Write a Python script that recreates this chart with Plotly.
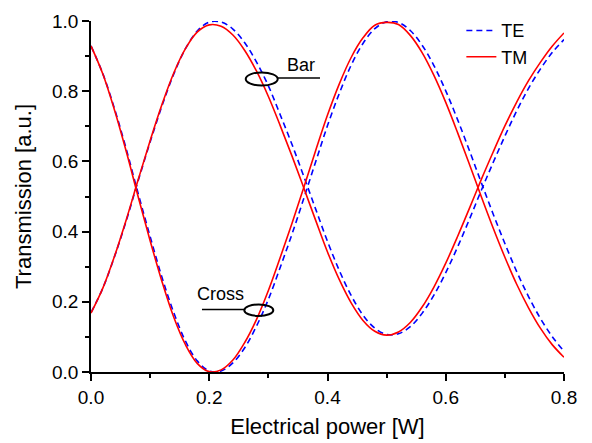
import plotly.graph_objects as go

power = [0.00, 0.02, 0.04, 0.06, 0.08, 0.10, 0.12, 0.14, 0.16, 0.18,
         0.20, 0.22, 0.24, 0.26, 0.28, 0.30, 0.32, 0.34, 0.36, 0.38,
         0.40, 0.42, 0.44, 0.46, 0.48, 0.50, 0.52, 0.54, 0.56, 0.58,
         0.60, 0.62, 0.64, 0.66, 0.68, 0.70, 0.72, 0.74, 0.76, 0.78, 0.80]

te_cross = [0.929, 0.850, 0.749, 0.633, 0.507, 0.386, 0.270, 0.169, 0.087, 0.031,
            0.003, 0.003, 0.026, 0.069, 0.131, 0.207, 0.298, 0.393, 0.495, 0.599,
            0.702, 0.794, 0.874, 0.936, 0.978, 0.998, 0.996, 0.973, 0.931, 0.873,
            0.801, 0.719, 0.631, 0.540, 0.451, 0.366, 0.286, 0.215, 0.153, 0.101, 0.059]
te_bar = [0.169, 0.239, 0.330, 0.433, 0.546, 0.655, 0.758, 0.849, 0.922, 0.972,
          0.997, 0.997, 0.977, 0.938, 0.883, 0.815, 0.733, 0.648, 0.557, 0.464,
          0.372, 0.289, 0.218, 0.162, 0.125, 0.107, 0.109, 0.129, 0.167, 0.219,
          0.283, 0.356, 0.435, 0.517, 0.596, 0.672, 0.744, 0.808, 0.863, 0.910, 0.947]

tm_cross = [0.929, 0.849, 0.745, 0.626, 0.498, 0.374, 0.258, 0.156, 0.077, 0.024,
            0.001, 0.006, 0.034, 0.084, 0.150, 0.232, 0.326, 0.424, 0.526, 0.631,
            0.732, 0.821, 0.896, 0.952, 0.988, 0.996, 0.990, 0.959, 0.910, 0.845,
            0.768, 0.682, 0.592, 0.500, 0.411, 0.327, 0.250, 0.183, 0.125, 0.078, 0.042]
tm_bar = [0.168, 0.239, 0.331, 0.436, 0.549, 0.659, 0.762, 0.852, 0.922, 0.969,
          0.989, 0.985, 0.960, 0.916, 0.857, 0.785, 0.702, 0.615, 0.524, 0.432,
          0.342, 0.263, 0.197, 0.147, 0.116, 0.105, 0.114, 0.141, 0.185, 0.242,
          0.310, 0.386, 0.466, 0.548, 0.626, 0.701, 0.769, 0.830, 0.882, 0.928, 0.966]

x_ticks = [0.0, 0.2, 0.4, 0.6, 0.8]
y_ticks = [0.0, 0.2, 0.4, 0.6, 0.8, 1.0]

FONT = "Arial, 'Liberation Sans', sans-serif"

fig = go.Figure()
fig.add_trace(go.Scatter(x=power, y=te_bar, mode="lines", name="TE", legendgroup="TE",
                         line=dict(color="#0000FF", width=1.6, dash="6px,4px", shape="spline")))
fig.add_trace(go.Scatter(x=power, y=te_cross, mode="lines", name="TE", legendgroup="TE",
                         showlegend=False,
                         line=dict(color="#0000FF", width=1.6, dash="6px,4px", shape="spline")))
fig.add_trace(go.Scatter(x=power, y=tm_bar, mode="lines", name="TM", legendgroup="TM",
                         line=dict(color="#FF0000", width=1.6, shape="spline")))
fig.add_trace(go.Scatter(x=power, y=tm_cross, mode="lines", name="TM", legendgroup="TM",
                         showlegend=False,
                         line=dict(color="#FF0000", width=1.6, shape="spline")))

shapes = [
    dict(type="circle", xref="x", yref="y", x0=0.2617, x1=0.3158, y0=0.816, y1=0.8535,
         line=dict(color="black", width=2)),
    dict(type="line", xref="x", yref="y", x0=0.3158, x1=0.3873, y0=0.8375, y1=0.8375,
         line=dict(color="black", width=1.6)),
    dict(type="circle", xref="x", yref="y", x0=0.2593, x1=0.3083, y0=0.1597, y1=0.1924,
         line=dict(color="black", width=2)),
    dict(type="line", xref="x", yref="y", x0=0.1877, x1=0.2593, y0=0.1779, y1=0.1779,
         line=dict(color="black", width=1.6)),
]

annotations = [
    dict(x=0.3552, y=0.874, xref="x", yref="y", text="Bar", showarrow=False,
         font=dict(family=FONT, size=18, color="black")),
    dict(x=0.2182, y=0.2227, xref="x", yref="y", text="Cross", showarrow=False,
         font=dict(family=FONT, size=18, color="black")),
]

fig.update_layout(
    width=592, height=443,
    margin=dict(l=91, r=28, t=15, b=71),
    paper_bgcolor="white", plot_bgcolor="white",
    font=dict(family=FONT, size=18, color="black"),
    showlegend=True,
    legend=dict(x=0.783, y=1.025, xanchor="left", yanchor="top",
                bgcolor="rgba(0,0,0,0)", font=dict(family=FONT, size=18),
                tracegroupgap=0, itemwidth=30),
    shapes=shapes,
    annotations=annotations,
)

fig.update_xaxes(
    range=[0, 0.8], tickvals=x_ticks, ticktext=[f"{v:.1f}" for v in x_ticks],
    showline=True, linecolor="black", linewidth=1.5, mirror=False,
    ticks="outside", ticklen=7, tickwidth=1.5, tickcolor="black",
    minor=dict(dtick=0.1, ticks="outside", ticklen=4, tickwidth=1.5, tickcolor="black"),
    showgrid=False, zeroline=False, automargin=False,
    title=dict(text="Electrical power [W]", font=dict(family=FONT, size=22), standoff=12),
    tickfont=dict(family=FONT, size=19),
)
fig.update_yaxes(
    range=[0, 1.0], tickvals=y_ticks, ticktext=[f"{v:.1f}" for v in y_ticks],
    showline=True, linecolor="black", linewidth=1.5, mirror=False,
    ticks="outside", ticklen=7, tickwidth=1.5, tickcolor="black",
    minor=dict(dtick=0.1, ticks="outside", ticklen=4, tickwidth=1.5, tickcolor="black"),
    showgrid=False, zeroline=False, automargin=False,
    title=dict(text="Transmission [a.u.]", font=dict(family=FONT, size=22), standoff=14),
    tickfont=dict(family=FONT, size=19),
)

fig.write_html("out.html")
